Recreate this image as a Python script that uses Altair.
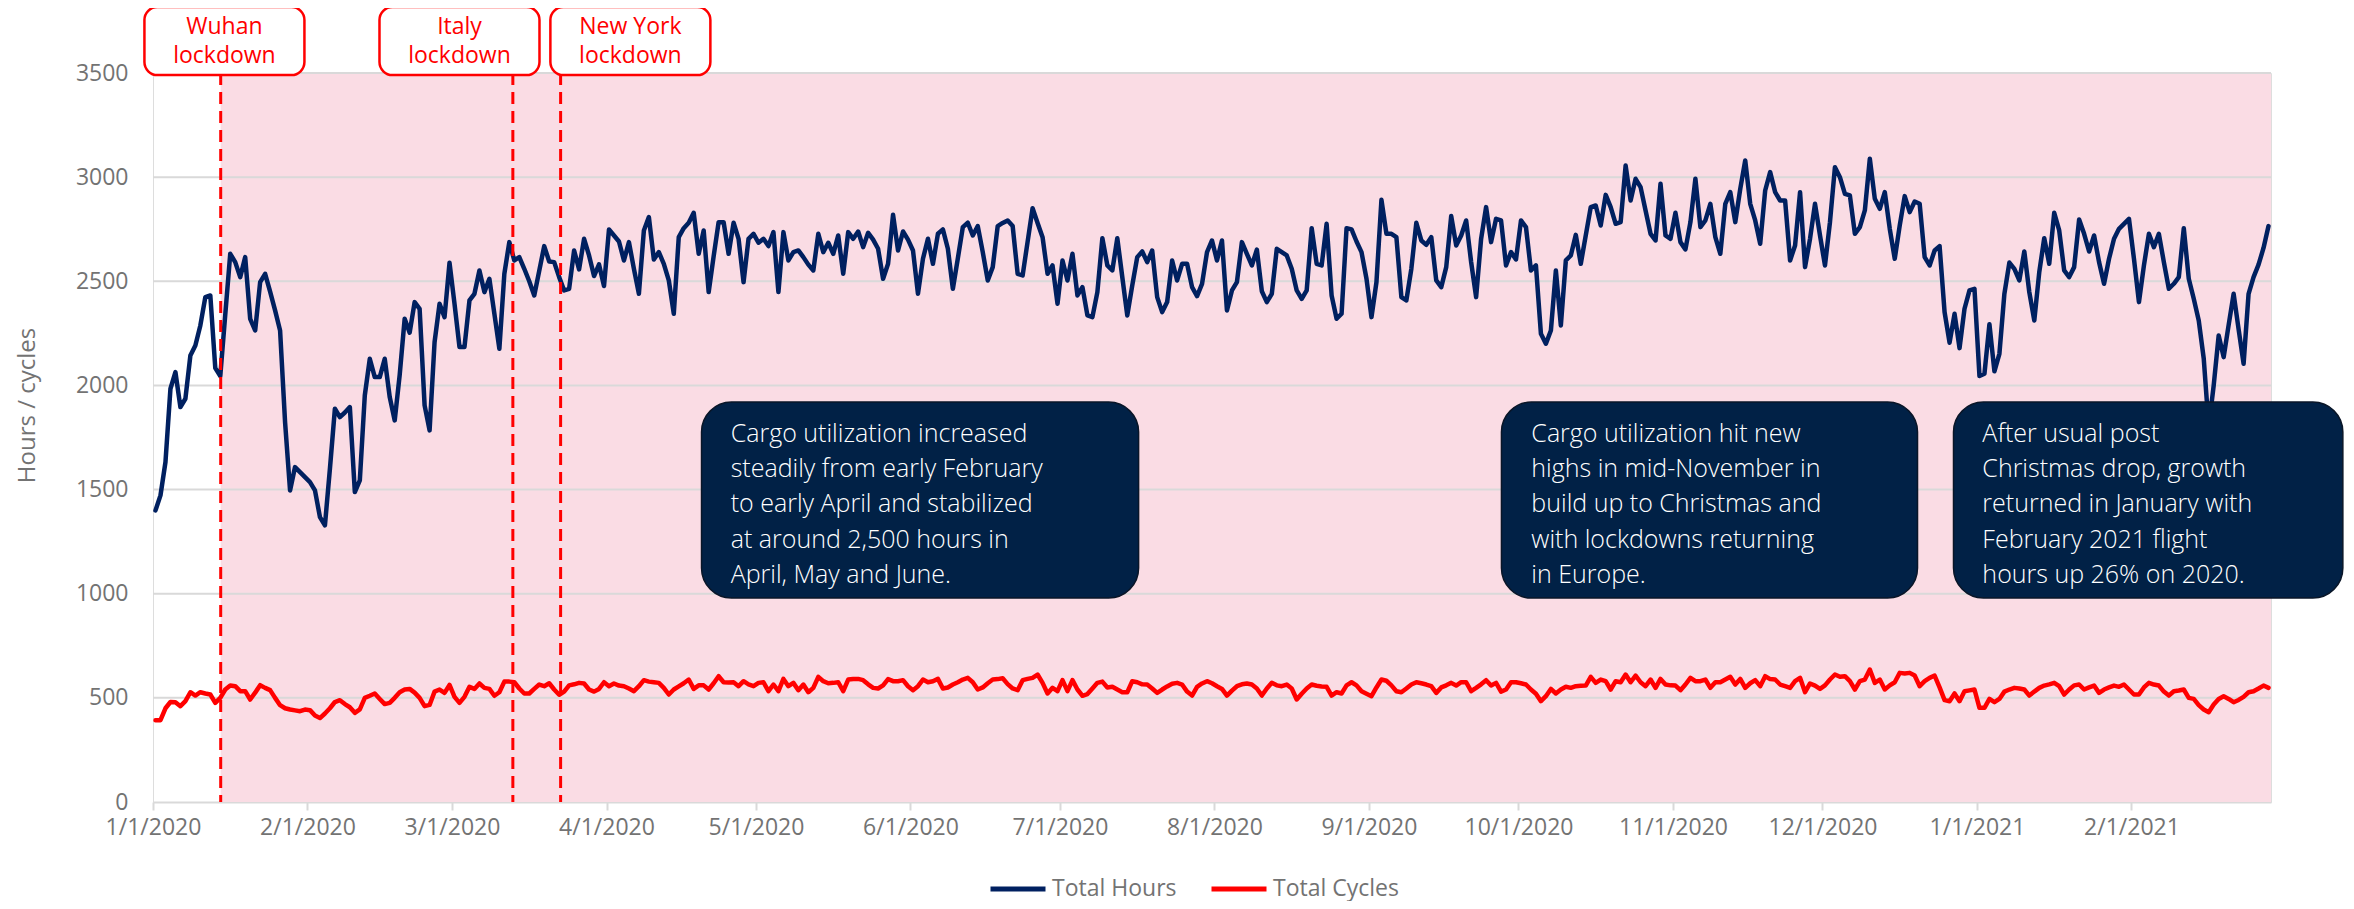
import altair as alt
import pandas as pd

# ---------------- data ----------------
hours = [
    1400, 1472, 1632, 1984, 2064, 1896, 1936, 2144, 2192, 2288,
    2424, 2432, 2083, 2045, 2340, 2632, 2592, 2520, 2616, 2320,
    2264, 2496, 2536, 2450, 2360, 2264, 1824, 1496, 1608, 1584,
    1560, 1536, 1496, 1368, 1328, 1600, 1888, 1848, 1870, 1896,
    1488, 1544, 1952, 2128, 2040, 2040, 2128, 1944, 1832, 2050,
    2320, 2253, 2400, 2368, 1904, 1784, 2208, 2392, 2328, 2589,
    2392, 2184, 2184, 2408, 2440, 2552, 2448, 2512, 2344, 2176,
    2536, 2688, 2600, 2616, 2560, 2500, 2432, 2550, 2669, 2595,
    2592, 2520, 2456, 2464, 2648, 2557, 2704, 2624, 2525, 2581,
    2477, 2749, 2720, 2691, 2600, 2688, 2560, 2440, 2744, 2808,
    2605, 2640, 2584, 2504, 2344, 2712, 2755, 2781, 2829, 2632,
    2744, 2448, 2620, 2784, 2784, 2632, 2781, 2704, 2496, 2704,
    2728, 2685, 2704, 2669, 2736, 2448, 2736, 2600, 2640, 2648,
    2616, 2580, 2552, 2728, 2640, 2685, 2632, 2720, 2536, 2736,
    2704, 2739, 2664, 2733, 2700, 2656, 2512, 2584, 2819, 2648,
    2739, 2700, 2648, 2440, 2608, 2704, 2584, 2728, 2749, 2656,
    2464, 2610, 2760, 2781, 2720, 2765, 2640, 2504, 2568, 2765,
    2780, 2792, 2765, 2536, 2528, 2690, 2851, 2780, 2712, 2536,
    2576, 2392, 2600, 2504, 2632, 2432, 2472, 2336, 2328, 2448,
    2707, 2576, 2552, 2707, 2520, 2336, 2480, 2616, 2643, 2592,
    2648, 2424, 2352, 2400, 2600, 2504, 2584, 2584, 2472, 2429,
    2488, 2640, 2696, 2600, 2696, 2360, 2456, 2496, 2688, 2632,
    2576, 2652, 2452, 2400, 2440, 2656, 2640, 2624, 2560, 2456,
    2416, 2456, 2755, 2584, 2576, 2776, 2432, 2320, 2344, 2755,
    2749, 2691, 2640, 2512, 2328, 2496, 2891, 2728, 2728, 2712,
    2424, 2408, 2560, 2781, 2696, 2675, 2712, 2504, 2472, 2568,
    2813, 2672, 2720, 2792, 2592, 2424, 2704, 2856, 2688, 2800,
    2792, 2576, 2640, 2605, 2792, 2760, 2552, 2576, 2248, 2200,
    2264, 2552, 2288, 2600, 2624, 2723, 2584, 2720, 2856, 2864,
    2768, 2915, 2856, 2776, 2784, 3056, 2888, 2992, 2952, 2840,
    2728, 2696, 2968, 2720, 2704, 2829, 2688, 2653, 2784, 2992,
    2760, 2792, 2872, 2712, 2632, 2872, 2928, 2784, 2944, 3080,
    2872, 2792, 2680, 2936, 3024, 2928, 2888, 2888, 2600, 2672,
    2928, 2568, 2704, 2872, 2720, 2576, 2784, 3048, 3000, 2920,
    2912, 2728, 2760, 2840, 3088, 2896, 2848, 2928, 2752, 2608,
    2768, 2909, 2832, 2883, 2872, 2616, 2576, 2648, 2669, 2352,
    2205, 2344, 2179, 2368, 2456, 2464, 2045, 2056, 2294, 2068,
    2152, 2440, 2590, 2560, 2504, 2643, 2448, 2312, 2544, 2707,
    2584, 2829, 2744, 2552, 2520, 2568, 2797, 2728, 2643, 2720,
    2592, 2488, 2608, 2704, 2752, 2776, 2800, 2608, 2400, 2576,
    2728, 2664, 2728, 2592, 2464, 2488, 2520, 2755, 2512, 2416,
    2312, 2130, 1800, 2000, 2240, 2136, 2290, 2440, 2270, 2104,
    2440, 2520, 2580, 2660, 2765,
]

cycles = [
    393, 393, 450, 480, 479, 460, 484, 527, 511, 527,
    521, 516, 476, 500, 540, 559, 556, 532, 532, 492,
    525, 561, 548, 537, 500, 465, 450, 444, 440, 436,
    444, 441, 415, 403, 425, 450, 480, 489, 470, 455,
    428, 445, 500, 510, 521, 495, 470, 476, 500, 527,
    540, 543, 525, 500, 460, 466, 530, 540, 524, 562,
    505, 476, 505, 553, 543, 569, 548, 543, 510, 527,
    578, 578, 575, 545, 521, 521, 543, 564, 556, 570,
    540, 515, 530, 560, 565, 572, 569, 540, 530, 543,
    575, 556, 569, 559, 556, 545, 532, 556, 585, 578,
    575, 572, 548, 516, 540, 555, 570, 588, 543, 560,
    560, 540, 570, 604, 575, 574, 575, 556, 580, 565,
    556, 572, 575, 532, 564, 532, 591, 556, 572, 537,
    564, 527, 548, 601, 580, 570, 572, 575, 532, 588,
    591, 591, 585, 565, 548, 545, 560, 590, 580, 580,
    585, 556, 537, 556, 588, 575, 580, 591, 545, 550,
    564, 575, 588, 596, 575, 540, 550, 570, 588, 590,
    594, 566, 545, 537, 585, 591, 596, 612, 572, 521,
    548, 532, 585, 532, 585, 540, 510, 518, 545, 572,
    578, 550, 553, 540, 527, 527, 580, 575, 565, 564,
    545, 524, 540, 555, 568, 572, 564, 530, 511, 553,
    569, 580, 570, 556, 543, 511, 535, 556, 565, 569,
    564, 545, 511, 545, 572, 560, 556, 564, 545, 492,
    520, 545, 564, 558, 555, 553, 511, 527, 521, 560,
    575, 560, 532, 520, 508, 550, 588, 582, 560, 532,
    527, 545, 564, 575, 570, 564, 556, 524, 550, 560,
    572, 559, 575, 575, 532, 548, 565, 585, 559, 572,
    530, 540, 575, 575, 570, 564, 540, 520, 484, 508,
    543, 521, 540, 553, 548, 556, 558, 559, 601, 572,
    588, 580, 540, 580, 575, 612, 575, 607, 575, 556,
    588, 548, 591, 564, 560, 559, 537, 564, 596, 580,
    580, 588, 548, 575, 575, 588, 601, 564, 591, 548,
    570, 585, 556, 604, 590, 588, 564, 556, 548, 580,
    596, 527, 569, 559, 543, 560, 588, 612, 601, 604,
    580, 540, 580, 588, 636, 572, 588, 540, 560, 575,
    620, 617, 620, 607, 556, 580, 596, 607, 550, 489,
    484, 521, 484, 532, 536, 540, 452, 452, 495, 479,
    495, 530, 540, 548, 545, 540, 511, 530, 548, 559,
    565, 572, 556, 516, 540, 560, 564, 540, 550, 559,
    524, 540, 550, 559, 553, 564, 540, 516, 516, 550,
    572, 564, 559, 530, 511, 532, 535, 540, 500, 495,
    465, 444, 431, 468, 495, 508, 495, 479, 490, 505,
    527, 532, 545, 559, 548,
]

series_names = ["Total Hours", "Total Cycles"]
series_colors = ["#002060", "#FF0000"]

y_ticks = [0, 500, 1000, 1500, 2000, 2500, 3000, 3500]

event_names = ["Wuhan\nlockdown", "Italy\nlockdown", "New York\nlockdown"]
event_dates = ["2020-01-14T14:00:00", "2020-03-13T05:00:00", "2020-03-22T19:00:00"]
event_label_dates = ["2020-01-15T08:00:00", "2020-03-02T12:00:00", "2020-04-05T19:00:00"]

note_texts = [
    "Cargo utilization increased\nsteadily from early February\nto early April and stabilized\nat around 2,500 hours in\nApril, May and June.",
    "Cargo utilization hit new\nhighs in mid-November in\nbuild up to Christmas and\nwith lockdowns returning\nin Europe.",
    "After usual post\nChristmas drop, growth\nreturned in January with\nFebruary 2021 flight\nhours up 26% on 2020.",
]
note_start = ["2020-04-20T01:40:00", "2020-09-27T14:00:00", "2020-12-27T07:00:00"]
note_end = ["2020-07-16T18:30:00", "2020-12-20T01:40:00", "2021-03-15T10:00:00"]
note_text_x = ["2020-04-25T22:00:00", "2020-10-03T14:00:00", "2021-01-02T02:00:00"]

# ---------------- tables ----------------
n = len(hours)
dates = list(pd.date_range("2020-01-01 12:00", periods=n, freq="D").strftime("%Y-%m-%dT%H:%M:%S"))
lines_df = pd.DataFrame({
    "date": dates + dates,
    "value": hours + cycles,
    "series": [series_names[0]] * n + [series_names[1]] * n,
})
grid_df = pd.DataFrame({"v": y_ticks[1:]})
events_df = pd.DataFrame({
    "date": event_dates, "name": event_names, "center": event_label_dates,
    "top": [3500] * 3, "bottom": [0] * 3,
    "btop": [3817] * 3, "bbot": [3490] * 3, "ty": [3686] * 3,
})
shade_df = pd.DataFrame({"start": [event_dates[0]], "end": ["2021-03-01T00:00:00"],
                         "top": [3500], "bottom": [0]})
notes_df = pd.DataFrame({"start": note_start, "end": note_end, "tx": note_text_x,
                         "text": note_texts, "top": [1920] * 3, "bottom": [979] * 3,
                         "ty": [1728] * 3})

GRAY = "#737373"
FONT = "Open Sans"
x_scale = alt.Scale(domain=[alt.DateTime(year=2020, month=1, date=1),
                            alt.DateTime(year=2021, month=3, date=1)])
y_scale = alt.Scale(domain=[0, 3500], nice=False)
tick_dates = [alt.DateTime(year=2020 + (m // 12), month=(m % 12) + 1, date=1) for m in range(14)]

x_axis = alt.Axis(values=tick_dates, format="%-m/%-d/%Y", grid=False, title=None,
                  labelFont=FONT, labelFontSize=23, labelColor=GRAY, labelPadding=6,
                  tickColor="#d9d9d9", tickSize=8, tickWidth=2,
                  domainColor="#d9d9d9", domainWidth=2, labelFlush=False)
y_axis = alt.Axis(values=y_ticks, format="d", grid=False, domain=False, ticks=False,
                  labelFont=FONT, labelFontSize=23, labelColor=GRAY, labelPadding=25,
                  title="Hours / cycles", titleFont=FONT, titleFontSize=24,
                  titleFontWeight="normal", titleColor=GRAY, titleAngle=-90,
                  titleX=-126, titleY=332, titleBaseline="middle", titleAlign="center")

def X(field):
    return alt.X(field, type="temporal", scale=x_scale, axis=x_axis)

def Y(field):
    return alt.Y(field, type="quantitative", scale=y_scale, axis=y_axis)

shade = alt.Chart(shade_df).mark_rect(color="#FADCE4").encode(
    x=X("start"), x2="end", y=Y("top"), y2="bottom")

grid = alt.Chart(grid_df).mark_rule(color="#d9d9d9", strokeWidth=2).encode(y=Y("v"))

lines = alt.Chart(lines_df).mark_line(strokeWidth=4.5, strokeJoin="round", strokeCap="round").encode(
    x=X("date"),
    y=Y("value"),
    color=alt.Color("series:N", scale=alt.Scale(domain=series_names, range=series_colors),
                    legend=alt.Legend(title=None, orient="none", legendX=835, legendY=786,
                                      direction="horizontal", symbolType="stroke",
                                      symbolSize=3025, symbolStrokeWidth=5,
                                      labelFont=FONT, labelFontSize=23, labelColor=GRAY,
                                      labelOffset=4, columnPadding=24, padding=0)),
)

dashed = alt.Chart(events_df).mark_rule(color="#FF0000", strokeWidth=3, strokeDash=[12, 7]).encode(
    x=X("date"), y=Y("top"), y2="bottom")

label_box = alt.Chart(events_df).mark_rect(fill="white", stroke="#FF0000", strokeWidth=2.5,
                                           cornerRadius=13, xOffset=-80, x2Offset=80).encode(
    x=X("center"), x2="center", y=Y("btop"), y2="bbot")

label_text = alt.Chart(events_df).mark_text(color="#FF0000", font=FONT, fontSize=23,
                                            lineBreak="\n", lineHeight=29, align="center",
                                            baseline="alphabetic").encode(
    x=X("center"), y=Y("ty"), text="name:N")

note_box = alt.Chart(notes_df).mark_rect(fill="#012146", stroke="#0a1628", strokeWidth=1.5,
                                         cornerRadius=30).encode(
    x=X("start"), x2="end", y=Y("top"), y2="bottom")

note_text = alt.Chart(notes_df).mark_text(color="white", font=FONT, fontSize=25, fontWeight=300,
                                          lineBreak="\n", lineHeight=35.2, align="left",
                                          baseline="alphabetic").encode(
    x=X("tx"), y=Y("ty"), text="text:N")

chart = alt.layer(shade, grid, lines, dashed, note_box, note_text, label_box, label_text).properties(
    width=2118, height=729,
    autosize=alt.AutoSizeParams(type="none"),
    padding={"left": 145, "top": 65, "right": 75, "bottom": 99},
).configure_view(stroke=None).configure(font=FONT, background="white")

chart.save("out.html", embed_options={"renderer": "svg", "actions": False})
